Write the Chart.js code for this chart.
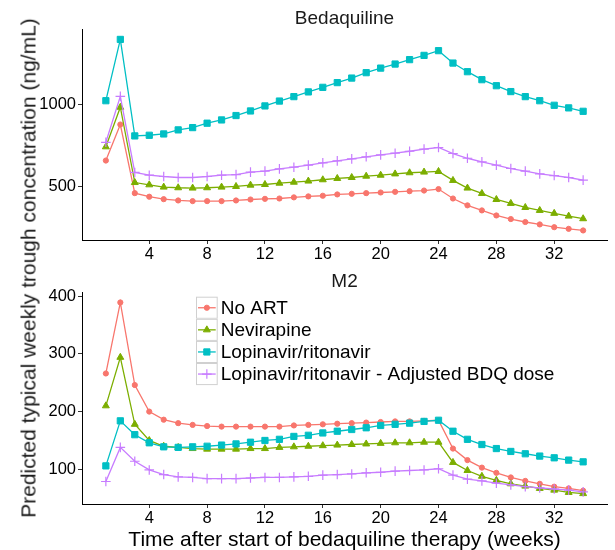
<!DOCTYPE html>
<html>
<head>
<meta charset="utf-8">
<script src="https://cdn.jsdelivr.net/npm/chart.js@4.4.0/dist/chart.umd.min.js"></script>
<style>
  html, body { margin: 0; padding: 0; background: #fff; overflow: hidden; }
  #wrap { position: relative; width: 615px; height: 550px; font-family: "Liberation Sans", Arial, sans-serif; }
  #chart-bdq { position: absolute; left: 0; top: 0; }
  #chart-m2 { position: absolute; left: 0; top: 268px; }
  #ylab {
    position: absolute; left: 28px; top: 268px;
    transform: translate(-50%, -50%) rotate(-90deg);
    white-space: nowrap; font-size: 21px; line-height: 1; color: #1a1a1a;
  }
</style>
</head>
<body>
<div id="wrap">
  <canvas id="chart-bdq" width="615" height="270"></canvas>
  <canvas id="chart-m2" width="615" height="285"></canvas>
  <div id="ylab">Predicted typical weekly trough concentration (ng/mL)</div>
</div>
<script>
// --- data ---
const weeks = [1, 2, 3, 4, 5, 6, 7, 8, 9, 10, 11, 12, 13, 14, 15, 16, 17, 18, 19, 20,
  21, 22, 23, 24, 25, 26, 27, 28, 29, 30, 31, 32, 33, 34];
const xTicks = [4, 8, 12, 16, 20, 24, 28, 32];
const bdqTicks = [500, 1000];
const m2Ticks = [100, 200, 300, 400];
const seriesNames = ['No ART', 'Nevirapine', 'Lopinavir/ritonavir', 'Lopinavir/ritonavir - Adjusted BDQ dose'];

// Bedaquiline (ng/mL)
const bdqNoArt = [657, 878, 457, 435, 420, 412, 408, 408, 408, 412, 418, 422, 424, 431, 437, 441, 449,
  453, 457, 461, 465, 469, 473, 482, 424, 382, 351, 320, 298, 280, 265, 248, 238, 228];
const bdqNev = [741, 984, 522, 508, 494, 490, 488, 490, 494, 498, 506, 510, 518, 524, 531, 539, 547,
  553, 561, 567, 575, 582, 586, 590, 535, 488, 455, 418, 394, 369, 351, 333, 316, 300];
const bdqLpv = [1024, 1400, 808, 812, 820, 845, 859, 886, 906, 933, 961, 992, 1022, 1049, 1078, 1106, 1135,
  1163, 1196, 1224, 1249, 1276, 1302, 1331, 1255, 1202, 1153, 1116, 1080, 1049, 1024, 996, 980, 959];
const bdqAdj = [769, 1051, 584, 567, 559, 553, 553, 559, 567, 571, 586, 592, 606, 616, 629, 643, 655,
  667, 680, 692, 702, 714, 727, 737, 700, 671, 649, 629, 608, 592, 575, 565, 553, 537];

// M2 (ng/mL)
const m2NoArt = [266, 389, 246, 200, 186, 180, 177, 175, 174, 174, 174, 174, 174, 176, 177, 178, 179,
  180, 181, 182, 183, 183, 184, 185, 136, 116, 103, 94, 86, 80, 75, 70, 67, 63];
const m2Nev = [210, 294, 178, 150, 140, 138, 136, 135, 135, 135, 136, 136, 138, 139, 140, 141, 142,
  143, 144, 145, 146, 146, 147, 147, 112, 98, 88, 81, 75, 71, 67, 64, 60, 58];
const m2Lpv = [106, 184, 160, 146, 139, 138, 139, 140, 142, 144, 147, 150, 152, 157, 159, 163, 166,
  169, 172, 176, 178, 180, 183, 185, 166, 152, 143, 136, 131, 127, 123, 120, 116, 113];
const m2Adj = [79, 138, 114, 99, 91, 87, 86, 84, 84, 84, 85, 86, 86, 87, 88, 90, 91,
  92, 94, 95, 97, 98, 99, 101, 90, 83, 80, 76, 73, 70, 68, 66, 64, 61];

// --- styles ---
const FONT = '"Liberation Sans", Arial, sans-serif';
const colors = ['#F8766D', '#7CAE00', '#00BFC4', '#C77CFF'];
const markers = [
  { pointStyle: 'circle', pointRadius: 2.6, pointBorderWidth: 1 },
  { pointStyle: 'triangle', pointRadius: 4, pointBorderWidth: 1 },
  { pointStyle: 'rect', pointRadius: 4.4, pointBorderWidth: 1 },
  { pointStyle: 'cross', pointRadius: 4.8, pointBorderWidth: 1.2 },
];

function makeDatasets(series) {
  return series.map((values, i) => ({
    label: seriesNames[i],
    data: values,
    borderColor: colors[i],
    backgroundColor: colors[i],
    pointBackgroundColor: colors[i],
    pointBorderColor: colors[i],
    borderWidth: 1.3,
    pointStyle: markers[i].pointStyle,
    pointRadius: markers[i].pointRadius,
    pointBorderWidth: markers[i].pointBorderWidth,
    order: series.length - i,
    tension: 0,
  }));
}

// legend drawn inside the M2 panel, ggplot style
const keyLegend = {
  id: 'keyLegend',
  afterDraw(chart, args, opts) {
    if (!opts.show) return;
    const ctx = chart.ctx;
    const left = 196, top = 28.7, rowH = 22.1, keyW = 21.7;
    ctx.save();
    chart.data.datasets.forEach((ds, i) => {
      const y = top + i * rowH;
      const cy = y + rowH / 2;
      ctx.fillStyle = '#fff';
      ctx.fillRect(left, y, keyW, rowH);
      ctx.strokeStyle = '#d0d0d0';
      ctx.lineWidth = 1;
      ctx.strokeRect(left + 0.5, y + 0.5, keyW - 1, rowH - 1);
      ctx.strokeStyle = ds.borderColor;
      ctx.lineWidth = ds.borderWidth;
      ctx.beginPath();
      ctx.moveTo(left + 2, cy);
      ctx.lineTo(left + keyW - 2, cy);
      ctx.stroke();
      ctx.fillStyle = ds.pointBackgroundColor;
      ctx.strokeStyle = ds.pointBorderColor;
      ctx.lineWidth = ds.pointBorderWidth;
      Chart.helpers.drawPoint(ctx, {
        pointStyle: ds.pointStyle, radius: ds.pointRadius,
        borderWidth: ds.pointBorderWidth, rotation: 0,
      }, left + keyW / 2, cy);
      ctx.fillStyle = '#000';
      ctx.font = '19px ' + FONT;
      ctx.textAlign = 'left';
      ctx.textBaseline = 'middle';
      ctx.fillText(ds.label, left + keyW + 3, cy + 1);
    });
    ctx.restore();
  },
};

function makePanel(canvasId, title, series, yTicks, yMin, yMax, xHeight, withXTitle, titlePad) {
  return new Chart(document.getElementById(canvasId), {
    type: 'line',
    data: { labels: weeks, datasets: makeDatasets(series) },
    plugins: [keyLegend],
    options: {
      responsive: false,
      animation: false,
      events: [],
      layout: { padding: { left: 0, right: 8, top: 0, bottom: 0 } },
      plugins: {
        legend: { display: false },
        tooltip: { enabled: false },
        keyLegend: { show: withXTitle },
        title: {
          display: true,
          text: title,
          fullSize: false,
          color: '#1a1a1a',
          font: { family: FONT, size: 19, weight: 'normal' },
          padding: { top: titlePad, bottom: 0 },
        },
      },
      scales: {
        x: {
          type: 'linear',
          min: -0.65,
          max: 35.65,
          afterBuildTicks: (s) => { s.ticks = xTicks.map((v) => ({ value: v })); },
          afterFit: (s) => { s.height = xHeight; },
          grid: { drawOnChartArea: false, drawTicks: true, tickLength: 4, color: '#333' },
          border: { display: true, color: '#000', width: 1 },
          ticks: {
            color: '#000',
            padding: 1,
            maxRotation: 0,
            autoSkip: false,
            font: { family: FONT, size: 16.5 },
            callback: (v) => String(v),
          },
          title: {
            display: withXTitle,
            text: 'Time after start of bedaquiline therapy (weeks)',
            color: '#000',
            font: { family: FONT, size: 21 },
            padding: { top: 0, bottom: 0 },
          },
        },
        y: {
          type: 'linear',
          min: yMin,
          max: yMax,
          afterBuildTicks: (s) => { s.ticks = yTicks.map((v) => ({ value: v })); },
          afterFit: (s) => { s.width = 82; },
          grid: { drawOnChartArea: false, drawTicks: true, tickLength: 4, color: '#333' },
          border: { display: true, color: '#000', width: 1 },
          ticks: {
            color: '#000',
            padding: 2,
            font: { family: FONT, size: 16.5 },
            callback: (v) => String(v),
          },
        },
      },
    },
  });
}

makePanel('chart-bdq', 'Bedaquiline', [bdqNoArt, bdqNev, bdqLpv, bdqAdj], bdqTicks, 169.5, 1459, 30, false, 7);
makePanel('chart-m2', 'M2', [m2NoArt, m2Nev, m2Lpv, m2Adj], m2Ticks, 40, 405.7, 49, true, 2);
</script>
</body>
</html>
